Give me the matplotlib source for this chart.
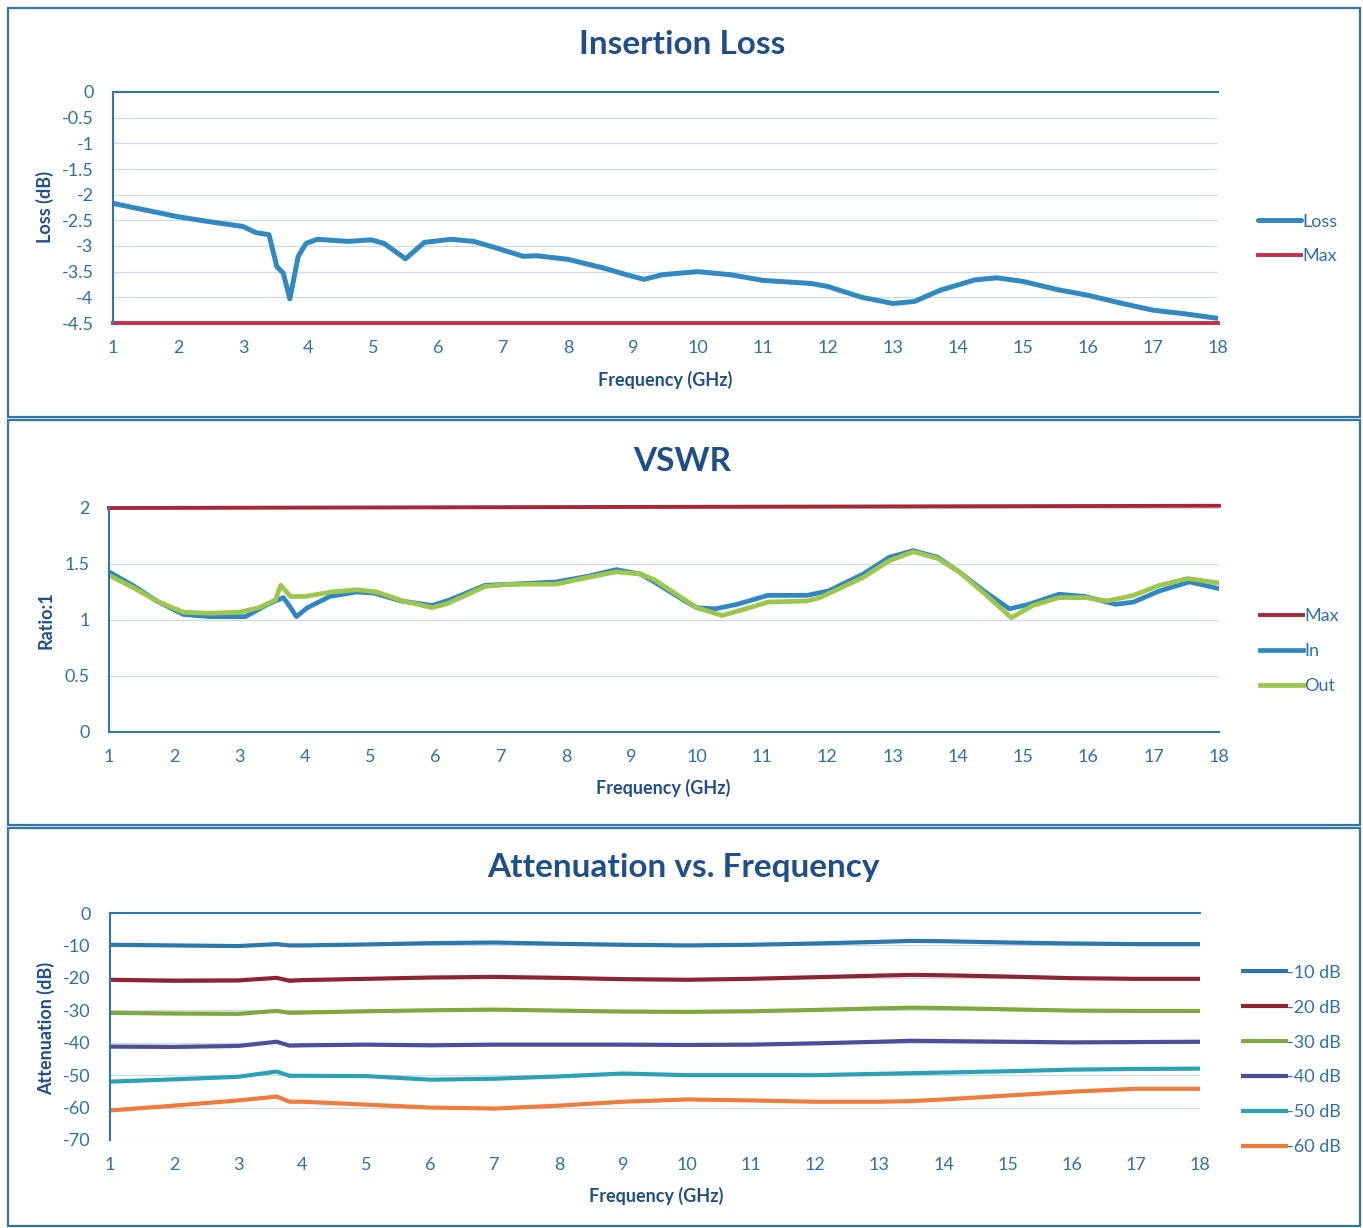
import numpy as np
import matplotlib
matplotlib.use('Agg')
import matplotlib.pyplot as plt
from matplotlib.patches import Rectangle

plt.rcParams['font.family'] = ['Lato', 'DejaVu Sans']

# ---- data ----
loss_f = [1, 1.5, 2, 2.5, 3, 3.2, 3.4, 3.52, 3.62, 3.72, 3.85, 3.97, 4.14, 4.62, 4.97,
          5.17, 5.5, 5.79, 6.2, 6.55, 6.9, 7.31, 7.52, 8.0, 8.55, 8.9, 9.17, 9.45, 9.8,
          10, 10.5, 11, 11.74, 12, 12.52, 13, 13.33, 13.73, 14.26, 14.6, 15, 15.53, 16,
          16.53, 17, 17.48, 18]
loss_db = [-2.17, -2.3, -2.43, -2.53, -2.62, -2.74, -2.78, -3.4, -3.53, -4.03, -3.2, -2.95,
           -2.87, -2.91, -2.88, -2.95, -3.25, -2.93, -2.87, -2.91, -3.04, -3.2, -3.19, -3.26,
           -3.43, -3.56, -3.65, -3.56, -3.52, -3.5, -3.56, -3.67, -3.73, -3.79, -4.0, -4.12,
           -4.08, -3.86, -3.66, -3.62, -3.69, -3.85, -3.96, -4.12, -4.25, -4.32, -4.41]
loss_max = [-4.5, -4.5]

in_f = [1, 1.39, 1.73, 2.14, 2.54, 3.09, 3.43, 3.67, 3.77, 3.87, 4.04, 4.38, 4.79, 5.06,
        5.47, 5.95, 6.22, 6.76, 7.17, 7.85, 8.33, 8.77, 9.14, 9.35, 9.82, 10, 10.29, 10.62,
        11.09, 11.69, 12.02, 12.55, 12.95, 13.32, 13.69, 14.02, 14.42, 14.79, 15.09, 15.55,
        15.95, 16.42, 16.69, 17.09, 17.55, 18]
vswr_in = [1.43, 1.30, 1.17, 1.05, 1.03, 1.03, 1.14, 1.2, 1.12, 1.03, 1.11, 1.21, 1.25, 1.24,
           1.17, 1.13, 1.18, 1.31, 1.32, 1.34, 1.39, 1.45, 1.41, 1.34, 1.17, 1.11, 1.1, 1.14,
           1.22, 1.22, 1.26, 1.41, 1.56, 1.62, 1.56, 1.43, 1.25, 1.1, 1.14, 1.23, 1.21, 1.14,
           1.16, 1.26, 1.34, 1.28]
out_f = [1, 1.4, 1.73, 2.14, 2.54, 3.0, 3.3, 3.55, 3.63, 3.78, 4.0, 4.4, 4.8, 5.1, 5.5, 5.95,
         6.2, 6.76, 7.17, 7.85, 8.33, 8.77, 9.14, 9.35, 9.82, 10, 10.39, 10.75, 11.09, 11.69,
         11.89, 12.55, 12.95, 13.32, 13.69, 14.02, 14.42, 14.82, 15.15, 15.55, 15.95, 16.29,
         16.69, 17.09, 17.52, 18]
vswr_out = [1.40, 1.28, 1.17, 1.07, 1.06, 1.07, 1.11, 1.18, 1.31, 1.21, 1.21, 1.25, 1.27, 1.25,
            1.17, 1.11, 1.15, 1.3, 1.32, 1.32, 1.38, 1.43, 1.41, 1.36, 1.18, 1.11, 1.04, 1.1,
            1.16, 1.17, 1.2, 1.38, 1.53, 1.61, 1.55, 1.43, 1.23, 1.02, 1.13, 1.2, 1.2, 1.17,
            1.22, 1.31, 1.37, 1.33]
vswr_max = [2.0, 2.02]

att_f = [1, 2, 3, 3.6, 3.8, 4, 5, 6, 7, 8, 9, 10, 11, 12, 13, 13.5, 14, 15, 16, 17, 18]
att_10 = [-9.8, -10.0, -10.2, -9.6, -10.0, -10.0, -9.7, -9.3, -9.1, -9.5, -9.8, -10.0, -9.8,
          -9.4, -8.9, -8.6, -8.7, -9.1, -9.4, -9.6, -9.6]
att_20 = [-20.6, -20.9, -20.8, -20.0, -20.9, -20.7, -20.3, -19.9, -19.7, -20.0, -20.4, -20.6,
          -20.3, -19.8, -19.3, -19.1, -19.2, -19.6, -20.1, -20.3, -20.3]
att_30 = [-30.8, -31.0, -31.1, -30.2, -30.8, -30.7, -30.3, -30.0, -29.8, -30.1, -30.4, -30.5,
          -30.3, -29.9, -29.4, -29.2, -29.3, -29.7, -30.1, -30.2, -30.2]
att_40 = [-41.2, -41.3, -41.0, -39.7, -40.9, -40.8, -40.6, -40.8, -40.6, -40.6, -40.6, -40.7,
          -40.6, -40.2, -39.7, -39.4, -39.5, -39.7, -39.9, -39.8, -39.7]
att_50 = [-52.0, -51.3, -50.5, -48.9, -50.2, -50.2, -50.3, -51.4, -51.1, -50.4, -49.5, -50.0,
          -50.0, -50.0, -49.6, -49.4, -49.2, -48.8, -48.3, -48.1, -48.0]
att_60 = [-60.9, -59.4, -57.8, -56.6, -58.2, -58.2, -59.1, -60.0, -60.3, -59.4, -58.2, -57.5,
          -57.8, -58.2, -58.2, -58.0, -57.5, -56.3, -55.1, -54.2, -54.2]
att_labels = ['-10 dB', '-20 dB', '-30 dB', '-40 dB', '-50 dB', '-60 dB']
att_colors = ['#2a78ad', '#8e2433', '#7fa83d', '#4b4f98', '#2aa2b6', '#ef7b3c']

freq_ticks = list(range(1, 19))

TITLE_C = '#1f4e8f'
TEXT_C = '#2e6fb0'
SPINE_C = '#2e75b6'
GRID_C = '#cdd9e6'

W, H = 1363, 1228
fig = plt.figure(figsize=(W / 100, H / 100), dpi=100)


def fx(px):
    return px / W


def fy(py):
    return 1 - py / H


def make_axes(l, r, t, b):
    return fig.add_axes([fx(l), fy(b), fx(r) - fx(l), fy(t) - fy(b)])


def style(ax, ylim, yticks, spine_top):
    ax.set_xlim(1, 18)
    ax.set_ylim(*ylim)
    ax.set_xticks(freq_ticks)
    ax.set_yticks(yticks)
    ax.set_yticklabels([('%g' % v) for v in yticks])
    ax.grid(True, axis='y', color=GRID_C, lw=0.9)
    ax.set_axisbelow(True)
    for s in ['right', 'top', 'bottom']:
        ax.spines[s].set_visible(False)
    ax.spines['left'].set_color(SPINE_C)
    ax.spines['left'].set_linewidth(1.5)
    if spine_top:
        ax.spines['top'].set_visible(True)
        ax.spines['top'].set_color(SPINE_C)
        ax.spines['top'].set_linewidth(1.5)
    else:
        ax.spines['bottom'].set_visible(True)
        ax.spines['bottom'].set_color(SPINE_C)
        ax.spines['bottom'].set_linewidth(1.5)
    ax.tick_params(length=0, labelsize=13, labelcolor=TEXT_C)
    ax.tick_params(axis='x', pad=12)
    ax.tick_params(axis='y', pad=14)


def legend(ax, x, y):
    ax.legend(loc='center left', bbox_to_anchor=(fx(x), fy(y)), bbox_transform=fig.transFigure,
              frameon=False, fontsize=13, labelcolor=TEXT_C, handlelength=2.4,
              handletextpad=0.05, labelspacing=1.05, borderpad=0, borderaxespad=0)


# panel frames
for top, bot in [(8, 417), (420, 825), (828, 1226)]:
    fig.patches.append(Rectangle((fx(8), fy(bot)), fx(1360) - fx(8), fy(top) - fy(bot),
                                 transform=fig.transFigure, fill=False,
                                 edgecolor=SPINE_C, lw=1.6))

# ---- Insertion loss ----
ax1 = make_axes(113, 1218, 92, 323)
ax1.plot(loss_f, loss_db, color='#3189c2', lw=3.6, label='Loss', solid_capstyle='round')
ax1.plot([1, 18], loss_max, color='#c2304b', lw=2.8, label='Max', clip_on=False)
style(ax1, (-4.5, 0), np.arange(0, -4.51, -0.5), True)
ax1.set_yticklabels(['0', '-0.5', '-1', '-1.5', '-2', '-2.5', '-3', '-3.5', '-4', '-4.5'])
fig.text(fx(682), fy(45), 'Insertion Loss', ha='center', va='center', fontsize=24,
         fontweight='bold', color=TITLE_C)
fig.text(fx(665), fy(380), 'Frequency (GHz)', ha='center', va='center', fontsize=13,
         fontweight='bold', color=TITLE_C)
fig.text(fx(45), fy(207), 'Loss (dB)', ha='center', va='center', rotation=90, fontsize=13,
         fontweight='bold', color=TITLE_C)
legend(ax1, 1258, 239)

# ---- VSWR ----
ax2 = make_axes(109, 1219, 508, 732)
ax2.plot([1, 18], vswr_max, color='#a82638', lw=2.8, label='Max', clip_on=False)
ax2.plot(in_f, vswr_in, color='#2f86c4', lw=3.4, label='In')
ax2.plot(out_f, vswr_out, color='#9cc64c', lw=3.4, label='Out')
style(ax2, (0, 2), [0, 0.5, 1, 1.5, 2], False)
fig.text(fx(682), fy(461), 'VSWR', ha='center', va='center', fontsize=24,
         fontweight='bold', color=TITLE_C)
fig.text(fx(663), fy(788), 'Frequency (GHz)', ha='center', va='center', fontsize=13,
         fontweight='bold', color=TITLE_C)
fig.text(fx(46), fy(620), 'Ratio:1', ha='center', va='center', rotation=90, fontsize=13,
         fontweight='bold', color=TITLE_C)
legend(ax2, 1260, 651)

# ---- Attenuation ----
ax3 = make_axes(110, 1200, 913, 1140)
for vals, lab, col in zip([att_10, att_20, att_30, att_40, att_50, att_60], att_labels, att_colors):
    ax3.plot(att_f, vals, color=col, lw=3.0, label=lab)
style(ax3, (-70, 0), list(range(0, -71, -10)), True)
fig.text(fx(683), fy(868), 'Attenuation vs. Frequency', ha='center', va='center', fontsize=24,
         fontweight='bold', color=TITLE_C)
fig.text(fx(656), fy(1196), 'Frequency (GHz)', ha='center', va='center', fontsize=13,
         fontweight='bold', color=TITLE_C)
fig.text(fx(46), fy(1028), 'Attenuation (dB)', ha='center', va='center', rotation=90,
         fontsize=13, fontweight='bold', color=TITLE_C)
legend(ax3, 1243, 1060)

fig.savefig('out.png', dpi=100, facecolor='white')
